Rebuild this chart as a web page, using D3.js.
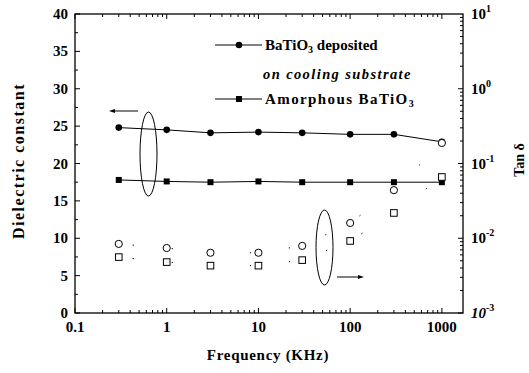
<!DOCTYPE html>
<html>
<head>
<meta charset="utf-8">
<script src="https://cdn.jsdelivr.net/npm/d3@7"></script>
<style>
  html, body { margin: 0; padding: 0; background: #fff; }
  svg { display: block; }
</style>
</head>
<body>
<svg id="chart" width="529" height="373"></svg>
<script>
// Measurement frequencies (KHz)
const frequencies = [0.3, 1, 3, 10, 30, 100, 300, 1000];

// Dielectric constant (left axis)
const dielectricCooled = [24.8, 24.5, 24.1, 24.2, 24.1, 23.9, 23.9, 22.9];
const dielectricAmorphous = [17.8, 17.6, 17.5, 17.6, 17.5, 17.5, 17.5, 17.5];

// Loss tangent (right axis, log)
const tanCooled = [0.0084, 0.0074, 0.0064, 0.0064, 0.0079, 0.016, 0.044, 0.188];
const tanAmorphous = [0.0056, 0.0048, 0.0043, 0.0043, 0.0051, 0.0092, 0.0218, 0.066];

// Axis ticks
const xTicks = [0.1, 1, 10, 100, 1000];
const xTickLabels = ["0.1", "1", "10", "100", "1000"];
const leftTicks = [0, 5, 10, 15, 20, 25, 30, 35, 40];
const rightExponents = [1, 0, -1, -2, -3];

const SERIF = "'Liberation Serif', 'Times New Roman', Times, 'DejaVu Serif', serif";

const svg = d3.select("#chart")
  .attr("font-family", SERIF)
  .attr("font-weight", "bold");
const m = { left: 75, right: 463, top: 14, bottom: 313 };

const x = d3.scaleLog().domain([0.1, 1700]).range([m.left, m.right]);
const yL = d3.scaleLinear().domain([0, 40]).range([m.bottom, m.top]);
const yR = d3.scaleLog().domain([1e-3, 10]).range([m.bottom, m.top]);

// Frame
svg.append("rect")
  .attr("x", m.left).attr("y", m.top)
  .attr("width", m.right - m.left).attr("height", m.bottom - m.top)
  .attr("fill", "none").attr("stroke", "#000").attr("stroke-width", 1.3);

// Log minor ticks for the frequency axis
const xMinor = [];
for (let e = -1; e <= 3; e++) {
  for (let k = 1; k <= 9; k++) {
    const v = k * Math.pow(10, e);
    if (v >= 0.1 && v <= 1700) xMinor.push(v);
  }
}
const tickG = svg.append("g").attr("stroke", "#000").attr("stroke-width", 1);
xMinor.forEach(v => {
  const major = xTicks.includes(v);
  const len = major ? 5 : 3;
  tickG.append("line").attr("x1", x(v)).attr("x2", x(v)).attr("y1", m.bottom).attr("y2", m.bottom - len);
  tickG.append("line").attr("x1", x(v)).attr("x2", x(v)).attr("y1", m.top).attr("y2", m.top + len);
});

// Left axis ticks (major each 5, minor at 2.5)
d3.range(0, 40.01, 2.5).forEach(v => {
  const len = v % 5 === 0 ? 5 : 3;
  tickG.append("line").attr("x1", m.left).attr("x2", m.left + len).attr("y1", yL(v)).attr("y2", yL(v));
});

// Right axis log ticks
for (let e = -3; e <= 0; e++) {
  for (let k = 1; k <= 9; k++) {
    const v = k * Math.pow(10, e);
    const len = k === 1 ? 5 : 3;
    tickG.append("line").attr("x1", m.right).attr("x2", m.right - len).attr("y1", yR(v)).attr("y2", yR(v));
  }
}

// Tick labels
svg.append("g").selectAll("text").data(xTicks).join("text")
  .attr("x", d => x(d)).attr("y", m.bottom + 19)
  .attr("text-anchor", "middle").attr("font-size", 15)
  .text((d, i) => xTickLabels[i]);

svg.append("g").selectAll("text").data(leftTicks).join("text")
  .attr("x", m.left - 7).attr("y", d => yL(d) + 5)
  .attr("text-anchor", "end").attr("font-size", 15)
  .text(d => d);

const rl = svg.append("g").selectAll("text").data(rightExponents).join("text")
  .attr("x", m.right + 8).attr("y", d => yR(Math.pow(10, d)) + 5)
  .attr("font-size", 15);
rl.append("tspan").text("10").attr("font-style", d => d === -3 ? "italic" : null);
rl.append("tspan").attr("dy", -7).attr("font-size", 10).text(d => d);

// Axis titles
svg.append("text")
  .attr("transform", "translate(24,161) rotate(-90)")
  .attr("text-anchor", "middle").attr("font-size", 16).attr("letter-spacing", 1.5)
  .text("Dielectric constant");
svg.append("text")
  .attr("x", 268).attr("y", 360)
  .attr("text-anchor", "middle").attr("font-size", 15).attr("letter-spacing", 0.7)
  .text("Frequency (KHz)");
svg.append("text")
  .attr("transform", "translate(524,160) rotate(-90)")
  .attr("text-anchor", "middle").attr("font-size", 14)
  .text("Tan δ");

// Dielectric constant series
const lineL = d3.line().x((d, i) => x(frequencies[i])).y(d => yL(d));
[dielectricCooled, dielectricAmorphous].forEach(s => {
  svg.append("path").attr("d", lineL(s)).attr("fill", "none").attr("stroke", "#000").attr("stroke-width", 1);
});
svg.append("g").selectAll("circle").data(dielectricCooled).join("circle")
  .attr("cx", (d, i) => x(frequencies[i])).attr("cy", d => yL(d)).attr("r", 3.3).attr("fill", "#000");
svg.append("g").selectAll("rect").data(dielectricAmorphous).join("rect")
  .attr("x", (d, i) => x(frequencies[i]) - 3).attr("y", d => yL(d) - 3)
  .attr("width", 6).attr("height", 6).attr("fill", "#000");

// Loss tangent series: sparse dotted guide and open markers
const lineR = d3.line().x((d, i) => x(frequencies[i])).y(d => yR(d));
[tanCooled, tanAmorphous].forEach(s => {
  svg.append("path").attr("d", lineR(s)).attr("fill", "none").attr("stroke", "#000")
    .attr("stroke-width", 1).attr("stroke-dasharray", "1.2 38").attr("stroke-dashoffset", -14);
});
svg.append("g").selectAll("circle").data(tanCooled).join("circle")
  .attr("cx", (d, i) => x(frequencies[i])).attr("cy", d => yR(d)).attr("r", 3.6)
  .attr("fill", "#fff").attr("stroke", "#000").attr("stroke-width", 1);
svg.append("g").selectAll("rect").data(tanAmorphous).join("rect")
  .attr("x", (d, i) => x(frequencies[i]) - 3.3).attr("y", d => yR(d) - 3.3)
  .attr("width", 6.6).attr("height", 6.6)
  .attr("fill", "#fff").attr("stroke", "#000").attr("stroke-width", 1);

// Ellipses marking which axis each group belongs to, with arrows
const ann = svg.append("g").attr("fill", "none").attr("stroke", "#000").attr("stroke-width", 1);
ann.append("ellipse").attr("cx", 148.5).attr("cy", 154).attr("rx", 8.5).attr("ry", 42);
ann.append("ellipse").attr("cx", 324.5).attr("cy", 247.5).attr("rx", 8.5).attr("ry", 37.5);
ann.append("line").attr("x1", 113).attr("x2", 138).attr("y1", 111).attr("y2", 111);
ann.append("line").attr("x1", 337).attr("x2", 359).attr("y1", 277).attr("y2", 277);
svg.append("path").attr("d", "M109,111 L115,109 L115,113 Z").attr("fill", "#000");
svg.append("path").attr("d", "M364,277 L358,275 L358,279 Z").attr("fill", "#000");

// Legend
const lg = svg.append("g");
lg.append("line").attr("x1", 215).attr("x2", 262).attr("y1", 45).attr("y2", 45).attr("stroke", "#000");
lg.append("circle").attr("cx", 239).attr("cy", 45).attr("r", 3.3).attr("fill", "#000");
lg.append("line").attr("x1", 215).attr("x2", 262).attr("y1", 99).attr("y2", 99).attr("stroke", "#000");
lg.append("rect").attr("x", 236).attr("y", 96).attr("width", 6).attr("height", 6).attr("fill", "#000");

const t1 = lg.append("text").attr("x", 265).attr("y", 50).attr("font-size", 15);
t1.append("tspan").text("BaTiO");
t1.append("tspan").attr("font-size", 10).attr("dy", 3).text("3");
t1.append("tspan").attr("dy", -3).text(" deposited");
lg.append("text").attr("x", 263).attr("y", 79).attr("font-size", 14.5).attr("font-style", "italic")
  .attr("letter-spacing", 1.4)
  .text("on cooling substrate");
const t2 = lg.append("text").attr("x", 265).attr("y", 104).attr("font-size", 15).attr("letter-spacing", 1.4);
t2.append("tspan").text("Amorphous BaTiO");
t2.append("tspan").attr("font-size", 10).attr("dy", 3).text("3");
</script>
</body>
</html>
